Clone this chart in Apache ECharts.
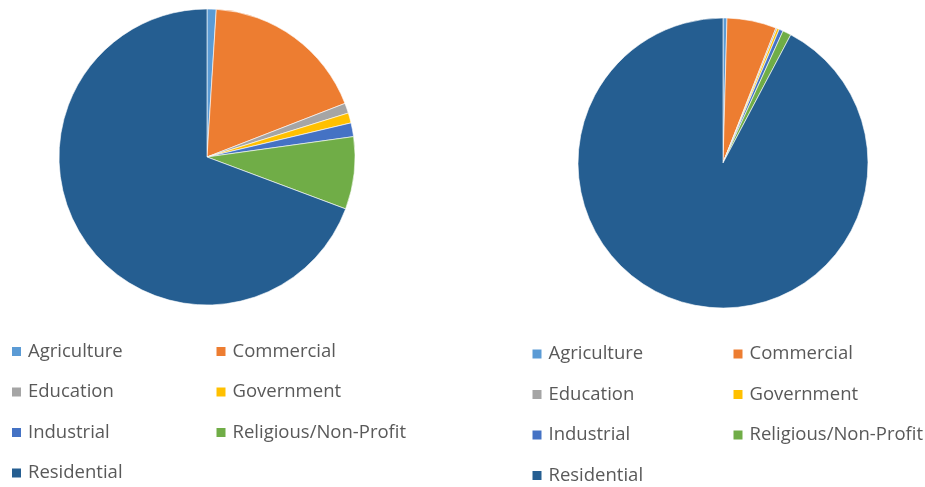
<!DOCTYPE html>
<html>
<head>
<meta charset="utf-8">
<script src="https://cdn.jsdelivr.net/npm/echarts@6/dist/echarts.min.js"></script>
<style>
  html, body { margin: 0; padding: 0; background: #fff; }
  #chart { width: 925px; height: 487px; }
</style>
</head>
<body>
<div id="chart"></div>
<script>
// Land-use categories shared by both pies
var categories = ['Agriculture', 'Commercial', 'Education', 'Government', 'Industrial', 'Religious/Non-Profit', 'Residential'];
var colors = ['#5B9BD5', '#ED7D31', '#A5A5A5', '#FFC000', '#4472C4', '#70AD47', '#255E91'];

// Share (%) per category, left and right pie
var leftValues = [1.0, 18.1, 1.1, 1.1, 1.5, 7.9, 69.3];
var rightValues = [0.44, 5.5, 0.15, 0.25, 0.45, 0.95, 92.26];

// Legend columns
var legendCol1 = ['Agriculture', 'Education', 'Industrial', 'Residential'];
var legendCol2 = ['Commercial', 'Government', 'Religious/Non-Profit'];

function pieData(values) {
  return categories.map(function (name, i) {
    return { name: name, value: values[i], itemStyle: { color: colors[i] } };
  });
}

function legend(x, y, names) {
  return {
    orient: 'vertical',
    left: x,
    top: y,
    padding: 0,
    data: names,
    icon: 'rect',
    itemWidth: 11,
    itemHeight: 11,
    itemGap: 20.5,
    selectedMode: false,
    textStyle: { fontFamily: 'Open Sans', fontSize: 18.5, color: '#595959', lineHeight: 20, padding: [0, 0, 0, 1] }
  };
}

function pie(center, radius, values) {
  return {
    type: 'pie',
    center: center,
    radius: radius,
    startAngle: 90,
    clockwise: true,
    animation: false,
    label: { show: false },
    labelLine: { show: false },
    emphasis: { disabled: true },
    itemStyle: { borderColor: '#ffffff', borderWidth: 0.6 },
    data: pieData(values)
  };
}

var chart = echarts.init(document.getElementById('chart'), null, { renderer: 'canvas' });
chart.setOption({
  backgroundColor: '#ffffff',
  animation: false,
  legend: [
    legend(10, 341.5, legendCol1),
    legend(214.5, 341.5, legendCol2),
    legend(530.5, 344, legendCol1),
    legend(731.5, 344, legendCol2)
  ],
  series: [
    pie([207, 157], 148, leftValues),
    pie([723, 163], 145, rightValues)
  ]
});
</script>
</body>
</html>
